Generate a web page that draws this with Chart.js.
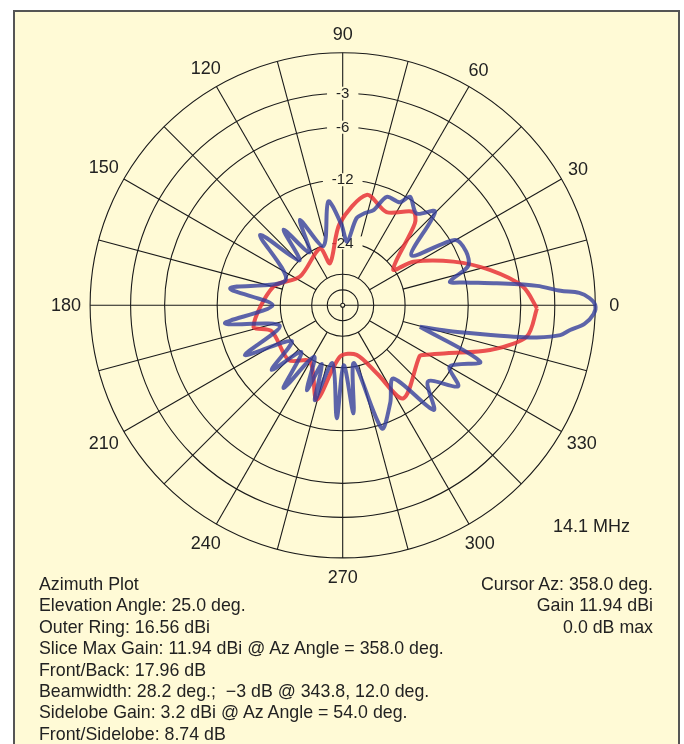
<!DOCTYPE html>
<html>
<head>
<meta charset="utf-8">
<title>Azimuth Plot</title>
<script src="https://cdn.jsdelivr.net/npm/chart.js@4.4.1/dist/chart.umd.min.js"></script>
<style>
  html, body { margin: 0; padding: 0; background: #fff; }
  body { width: 684px; height: 744px; position: relative; overflow: hidden;
         font-family: "Liberation Sans", Arial, sans-serif; color: #222; }
  .frame { position: absolute; left: 13px; top: 10px; width: 667px; height: 800px;
           box-sizing: border-box; border: 2px solid #555; background: #fffad6; }
  #chart { position: absolute; left: 0; top: 0; }
  .info { position: absolute; font-size: 17.8px; line-height: 21.4px; white-space: pre; }
  #infoLeft { left: 39px; top: 574px; }
  #infoRight { right: 31px; top: 574px; text-align: right; }
  #freq { position: absolute; left: 553px; top: 516px; font-size: 18px; }
</style>
</head>
<body>
<div class="frame"></div>
<canvas id="chart" width="684" height="744"></canvas>
<div class="info" id="infoLeft"></div>
<div class="info" id="infoRight"></div>
<div id="freq">14.1 MHz</div>
<script>
// azimuth plot, ARRL log scale, values in dB relative to 11.94 dBi max
const blueAz = [344.5, 346.3, 348.2, 349.6, 350.6, 352.2, 353.8, 355.6, 358, 0, 1.7, 3.0, 3.8, 5.7, 8.1, 10.6, 12.4,
                17.4, 23.5, 30.2, 36, 45.4, 51.2, 58.2, 61, 67.9, 72, 76.4, 81, 86,
                91, 97.9, 108, 116.6, 122, 128, 134, 139.6, 156, 171.4, 180, 188.7, 198, 207, 215, 222.3, 228.5, 234.5, 241, 247,
                250.5, 253.7, 260, 267, 271, 275.7, 281, 287.6, 296, 304.7, 311, 318.3, 324.9, 330.2, 337.7];
const blueDb = [-19.7, -14.7, -10.1, -6.4, -4.3, -2.4, -1.7, -0.7, -0.1, 0, -0.4, -1.1, -2.5, -4.4, -8.3, -12.2, -14.3,
                -11.2, -10.8, -11.4, -18.7, -11.2, -13.1, -11.7, -13.1, -13.2, -15.9, -16.8, -18.1, -23.6,
                -19.5, -15.1, -24.0, -16.7, -24.0, -16.6, -24.0, -14.5, -24.0, -13.7, -22.0, -12.9, -23.0, -14.3, -24.0, -16.6, -24.0, -15.6, -25.0, -17.3,
                -24.0, -16.1, -25.0, -13.8, -24.7, -14.5, -25.0, -11.5, -14.5, -17.9, -10.3, -13.6, -10.0, -12.3, -9.1];

const redAz = [359.1, 5.9, 13.5, 21.5, 31.7, 35.4, 48.6, 53, 64.8, 77.7, 92, 106.8, 111.7, 146, 165, 193.4, 200, 225.4, 239.9, 254.6,
               267, 285.7, 296.6, 303.1, 326.4, 328.4, 335.2, 343.1, 350.3];
const redDb = [-4.5, -5.7, -8.8, -12.9, -19.1, -24.1, -14.4, -13.2, -15.4, -13.8, -19.3, -30.0, -24.3, -27.3, -21.6, -17.4, -20.7, -20.4, -23.3, -16.3,
               -27.3, -27.3, -20.6, -14.1, -17.3, -16.8, -13.6, -8.5, -5.2];

// grid rings (dB) and labels
const ringDb = [0, -3, -6, -12, -24, -36, -48];
const ringLabels = ['-3', '-6', '-12', '-24'];
const azLabels = ['0', '30', '60', '90', '120', '150', '180', '210', '240', '270', '300', '330'];

const infoLeft = [
  'Azimuth Plot',
  'Elevation Angle: 25.0 deg.',
  'Outer Ring: 16.56 dBi',
  'Slice Max Gain: 11.94 dBi @ Az Angle = 358.0 deg.',
  'Front/Back: 17.96 dB',
  'Beamwidth: 28.2 deg.;  \u22123 dB @ 343.8, 12.0 deg.',
  'Sidelobe Gain: 3.2 dBi @ Az Angle = 54.0 deg.',
  'Front/Sidelobe: 8.74 dB'
];
const infoRight = ['Cursor Az: 358.0 deg.', 'Gain 11.94 dBi', '0.0 dB max'];

document.getElementById('infoLeft').textContent = infoLeft.join('\n');
document.getElementById('infoRight').textContent = infoRight.join('\n');

// ARRL log scale: radius drops by 0.89 every 2 dB
function arrl(db) {
  return Math.pow(0.89, -db / 2);
}

function toPoints(az, db) {
  return az.map((a, i) => {
    const r = arrl(db[i]);
    const t = a * Math.PI / 180;
    return { x: r * Math.cos(t), y: r * Math.sin(t) };
  });
}

const bluePts = toPoints(blueAz, blueDb);
bluePts.push(bluePts[0]);
const redPts = toPoints(redAz, redDb);
redPts.push(redPts[0]);

const polarGrid = {
  id: 'polarGrid',
  beforeDatasetsDraw(chart) {
    const ctx = chart.ctx;
    const xs = chart.scales.x, ys = chart.scales.y;
    const cx = xs.getPixelForValue(0), cy = ys.getPixelForValue(0);
    const R = xs.getPixelForValue(1) - cx;
    ctx.save();
    ctx.strokeStyle = '#1a1a1a';
    ctx.lineWidth = 1.1;

    ringDb.forEach(d => {
      ctx.beginPath();
      ctx.arc(cx, cy, R * arrl(d), 0, Math.PI * 2);
      ctx.stroke();
    });

    for (let a = 0; a < 360; a += 15) {
      let r0 = 0;
      if (a % 90 !== 0) r0 = a % 30 === 0 ? arrl(-36) : arrl(-24);
      const t = a * Math.PI / 180;
      ctx.beginPath();
      ctx.moveTo(cx + R * r0 * Math.cos(t), cy - R * r0 * Math.sin(t));
      ctx.lineTo(cx + R * Math.cos(t), cy - R * Math.sin(t));
      ctx.stroke();
    }

    // little centre mark
    ctx.beginPath();
    ctx.arc(cx, cy, 2, 0, Math.PI * 2);
    ctx.fillStyle = '#fffad6';
    ctx.fill();
    ctx.stroke();

    // ring labels sit on the 90 deg line
    ctx.font = '15px "Liberation Sans", Arial, sans-serif';
    ctx.textAlign = 'center';
    ctx.textBaseline = 'middle';
    ringLabels.forEach(lbl => {
      const y = cy - R * arrl(parseFloat(lbl));
      const w = ctx.measureText(lbl).width + 18;
      ctx.fillStyle = '#fffad6';
      ctx.fillRect(cx - w / 2, y - 6.5, w, 13);
      ctx.fillStyle = '#222';
      ctx.fillText(lbl, cx, y + 0.5);
    });

    // azimuth labels, three-digit ones pushed out a little more sideways
    ctx.font = '18px "Liberation Sans", Arial, sans-serif';
    azLabels.forEach(lbl => {
      const t = parseFloat(lbl) * Math.PI / 180;
      const rr = R + 19 + (lbl.length > 2 ? 5 * Math.abs(Math.cos(t)) : 0);
      ctx.fillText(lbl, cx + rr * Math.cos(t), cy - rr * Math.sin(t) + 1);
    });
    ctx.restore();
  }
};

new Chart(document.getElementById('chart'), {
  type: 'scatter',
  data: {
    datasets: [
      { data: bluePts, showLine: true, borderColor: 'rgba(52, 62, 158, 0.8)', borderWidth: 4,
        pointRadius: 0, tension: 0.3, fill: false },
      { data: redPts, showLine: true, borderColor: 'rgba(232, 50, 56, 0.85)', borderWidth: 4,
        pointRadius: 0, tension: 0.3, fill: false }
    ]
  },
  options: {
    responsive: false,
    animation: false,
    devicePixelRatio: 1,
    layout: { padding: 0 },
    scales: {
      x: { type: 'linear', min: -1.3567, max: 1.3512, display: false },
      y: { type: 'linear', min: -1.7368, max: 1.2086, display: false }
    },
    plugins: { legend: { display: false }, tooltip: { enabled: false } }
  },
  plugins: [polarGrid]
});
</script>
</body>
</html>
